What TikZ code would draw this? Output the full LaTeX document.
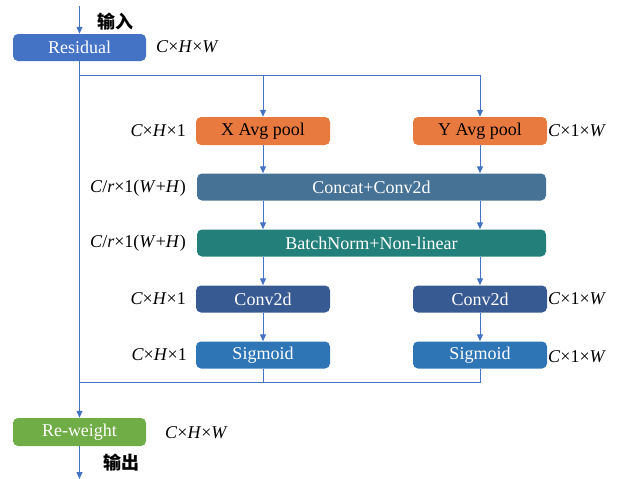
\documentclass[tikz,border=0pt]{standalone}
\usepackage{fontspec}
\setmainfont{Liberation Serif}
\newfontfamily\cjk{Noto Sans CJK SC}
\usetikzlibrary{arrows.meta}
\definecolor{ResidualBlue}{HTML}{4472C4}
\definecolor{PoolOrange}{HTML}{E97A3F}
\definecolor{ConcatBlue}{HTML}{467296}
\definecolor{NormTeal}{HTML}{237F79}
\definecolor{ConvBlue}{HTML}{385A93}
\definecolor{SigBlue}{HTML}{2E75B6}
\definecolor{WeightGreen}{HTML}{70AD47}
\definecolor{LineBlue}{HTML}{4472C4}

\begin{document}
\begin{tikzpicture}[x=1pt, y=-1pt,
    font=\fontsize{18}{20}\selectfont,
    block/.style={rounded corners=5pt, text=white, minimum height=27, inner sep=0pt},
    small/.style={block, minimum width=134},
    wide/.style={block, minimum width=349},
    conn/.style={draw=LineBlue, line width=1pt},
    arrow/.style={conn, -{Triangle[length=7pt, width=6pt]}},
    dim/.style={inner sep=0pt}]

    \useasboundingbox (0,0) rectangle (619,479);

    % Columns and rows
    \def\trunkX{79.5}
    \def\leftX{263}
    \def\rightX{480}
    \def\midX{371.5}

    % ---------- Input
    \coordinate (inStart) at (\trunkX,6);
    \node[small, fill=ResidualBlue, minimum width=133] (residual) at (\trunkX,47.5) {Residual};
    \node (inLabel) at (115,22) {\cjk\bfseries 输入};
    \node[dim, anchor=west] (resDim) at (156,47) {\textit{C}×\textit{H}×\textit{W}};
    \draw[arrow] (inStart) -- (residual);

    % ---------- Pooling
    \node[small, fill=PoolOrange, text=black, minimum height=28] (xPool) at (\leftX,131) {X Avg pool};
    \node[small, fill=PoolOrange, text=black, minimum height=28] (yPool) at (\rightX,131) {Y Avg pool};
    \node[wide, fill=ConcatBlue] (concat) at (\midX,187) {Concat+Conv2d};
    \node[wide, fill=NormTeal] (norm) at (\midX,243) {BatchNorm+Non-linear};
    \node[small, fill=ConvBlue] (convX) at (\leftX,299) {Conv2d};
    \node[small, fill=ConvBlue] (convY) at (\rightX,299) {Conv2d};
    \node[small, fill=SigBlue] (sigX) at (\leftX,355) {Sigmoid};
    \node[small, fill=SigBlue] (sigY) at (\rightX,355) {Sigmoid};

    % ---------- Output
    \node[small, fill=WeightGreen, minimum width=133, minimum height=28] (reweight) at (\trunkX,432) {Re-weight};
    \node (outLabel) at (121,463) {\cjk\bfseries 输出};
    \node[dim, anchor=west] (weightDim) at (165,433) {\textit{C}×\textit{H}×\textit{W}};
    \coordinate (outEnd) at (\trunkX,479);

    % Dimensions
    \node[dim, anchor=east] (xPoolDim) at (186,131) {\textit{C}×\textit{H}×1};
    \node[dim, anchor=west] (yPoolDim) at (548,131) {\textit{C}×1×\textit{W}};
    \node[dim, anchor=east] (concatDim) at (186,188) {\textit{C}/\textit{r}×1(\textit{W}+\textit{H})};
    \node[dim, anchor=east] (normDim) at (186,243) {\textit{C}/\textit{r}×1(\textit{W}+\textit{H})};
    \node[dim, anchor=east] (convXDim) at (186,299) {\textit{C}×\textit{H}×1};
    \node[dim, anchor=west] (convYDim) at (548,299) {\textit{C}×1×\textit{W}};
    \node[dim, anchor=east] (sigXDim) at (187,355) {\textit{C}×\textit{H}×1};
    \node[dim, anchor=west] (sigYDim) at (548,357) {\textit{C}×1×\textit{W}};

    % ---------- Connectors
    \coordinate (split) at (\trunkX,75);
    \coordinate (merge) at (\trunkX,382);
    \draw[arrow] (residual) -- (reweight);
    \draw[conn] (split) -- (split -| yPool);
    \draw[arrow] (split -| xPool) -- (xPool);
    \draw[arrow] (split -| yPool) -- (yPool);
    \draw[arrow] (xPool) -- (xPool |- concat.north);
    \draw[arrow] (yPool) -- (yPool |- concat.north);
    \draw[arrow] (concat.south -| xPool) -- (norm.north -| xPool);
    \draw[arrow] (concat.south -| yPool) -- (norm.north -| yPool);
    \draw[arrow] (norm.south -| convX) -- (convX);
    \draw[arrow] (norm.south -| convY) -- (convY);
    \draw[arrow] (convX) -- (sigX);
    \draw[arrow] (convY) -- (sigY);
    \draw[conn] (sigX) -- (sigX |- merge);
    \draw[conn] (sigY) -- (sigY |- merge) -- (merge);
    \draw[arrow] (reweight) -- (outEnd);

\end{tikzpicture}
\end{document}
